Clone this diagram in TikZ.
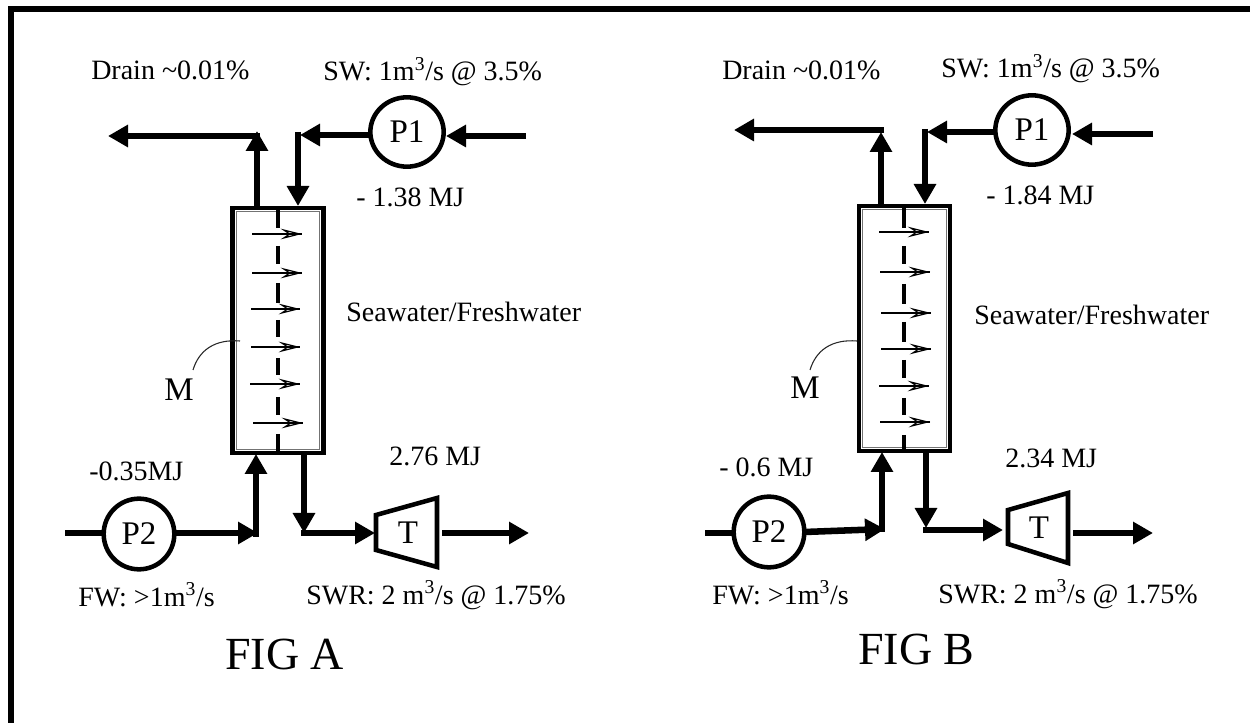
\documentclass[tikz,border=0pt]{standalone}
\usepackage{fontspec}
\setmainfont{Liberation Serif}
\usetikzlibrary{arrows.meta,shapes.geometric}
\newcommand{\fa}{\fontsize{21}{24}\selectfont}
\newcommand{\fb}{\fontsize{24.75}{28}\selectfont}
\newcommand{\fc}{\fontsize{34.5}{40}\selectfont}
\tikzset{
  pipe/.style={line width=4.9pt,line cap=butt,line join=miter},
  flow/.style={pipe,-{Triangle[length=15pt,width=16pt]}},
  lbl/.style={anchor=base west,inner sep=0pt,font=\fa},
  big/.style={anchor=center,inner sep=0pt,font=\fb},
  figlbl/.style={anchor=base west,inner sep=0pt,font=\fc},
  pump/.style={draw,ellipse,line width=3.4pt,inner sep=0pt,font=\fb,outer sep=0pt},
  shell/.style={draw,rectangle,line width=3.4pt,inner sep=0pt,outer sep=0pt,minimum width=68pt,minimum height=184pt},
  liner/.style={draw=black!55,rectangle,line width=0.9pt,inner sep=0pt,minimum width=62.5pt,minimum height=178pt},
  memb/.style={line width=3.4pt},
  perm/.style={line width=0.9pt,-{Stealth[open,length=16pt,width=8pt,inset=6pt,line width=0.9pt]}},
  lead/.style={line width=0.8pt,draw=black!85},
  turb/.style={line width=3.4pt,line join=miter}
}
\begin{document}
\begin{tikzpicture}[x=0.75pt,y=-0.75pt]
\useasboundingbox (0,0) rectangle (1250,723);
\fill[white] (0,0) rectangle (1250,723);
\fill[black] (8,6.5) rectangle (1250,12.5);
\fill[black] (8,6.5) rectangle (13.5,723);

% ---------- FIG A ----------
\node[shell] (boxA) at (278,330.5) {};
\node[liner] (linA) at (278,330.5) {};
\node[pump,minimum width=55pt,minimum height=52pt] (p1A) at (407,132) {P1};
\node[pump,minimum width=53pt,minimum height=53pt] (p2A) at (139,534) {P2};
\foreach \ya/\yb in {208/228,246/264,283/303,320/337,358/375,397/415,434/453}
  \draw[memb] (278,\ya) -- (278,\yb);
\foreach \xa/\xb/\yy in {252/302/234,252/302/273,251/300/309,251/300/347,250/300/384,253/303/423}{
  \coordinate (s) at (\xa,\yy); \coordinate (e) at (\xb,\yy);
  \draw[line width=0.9pt] (s) -- (e);
  \draw[perm] (s) -- (e);
}
\draw[turb] (376,515) -- (437,498) -- (437,567) -- (376,550) -- cycle;
\node[big] (tA) at (408,533) {T};
\coordinate (A1) at (526,136);
\coordinate (A2) at (446,136);
\coordinate (A0) at (300,135);
\coordinate (A3) at (298,132);
\coordinate (A4) at (298,206);
\coordinate (A5) at (257,206);
\coordinate (A6) at (257,131);
\coordinate (A7) at (260,136);
\coordinate (A8) at (108,136);
\coordinate (A9) at (65,533);
\coordinate (A10) at (258,533);
\coordinate (A11) at (256,536.5);
\coordinate (A12) at (256,454);
\coordinate (A13) at (304,455);
\coordinate (A14) at (304,533);
\coordinate (A15) at (301,533);
\coordinate (A16) at (375,533);
\coordinate (A17) at (442,533);
\coordinate (A18) at (529,533);
\draw[flow] (A1) -- (A2);
\draw[flow] (p1A.west |- A0) -- (A0);
\draw[flow] (A3) -- (A4);
\draw[flow] (A5) -- (A6);
\draw[flow] (A7) -- (A8);
\draw[pipe] (A9) -- (p2A.west |- A9);
\draw[flow] (p2A.east |- A10) -- (A10);
\draw[flow] (A11) -- (A12);
\draw[flow] (A13) -- (A14);
\draw[flow] (A15) -- (A16);
\draw[flow] (A17) -- (A18);
\coordinate (Ml1) at (240,341);
\coordinate (Ml2) at (193,370);
\draw[lead] (Ml1) .. controls (215,339) and (199,350) .. (Ml2);
\node[big] (mA) at (179,390) {M};
\node[lbl] (drA) at (91,80) {Drain \textasciitilde0.01\%};
\node[lbl] (swA) at (323,81) {SW: 1m\textsuperscript{3}/s @ 3.5\%};
\node[lbl] (e1A) at (356,207) {- 1.38 MJ};
\node[lbl] (sfA) at (346,322) {Seawater/Freshwater};
\node[lbl] (e2A) at (89,480) {-0.35MJ};
\node[lbl] (e3A) at (389,465) {2.76 MJ};
\node[lbl] (fwA) at (78,606) {FW: >1m\textsuperscript{3}/s};
\node[lbl] (srA) at (306,604) {SWR: 2 m\textsuperscript{3}/s @ 1.75\%};
\node[figlbl] (figA) at (225,669) {FIG A};

% ---------- FIG B ----------
\node[shell] (boxB) at (904.5,328.5) {};
\node[liner] (linB) at (904.5,328.5) {};
\node[pump,minimum width=55pt,minimum height=52pt] (p1B) at (1032,130) {P1};
\node[pump,minimum width=53pt,minimum height=53pt] (p2B) at (769,532) {P2};
\foreach \ya/\yb in {208/228,246/264,284/304,322/342,360/378,398/415,435/452}
  \draw[memb] (904,\ya) -- (904,\yb);
\foreach \xa/\xb/\yy in {879/929/232,880/930/272,881/931/313,881/931/349,879/929/386,880/930/422}{
  \coordinate (s) at (\xa,\yy); \coordinate (e) at (\xb,\yy);
  \draw[line width=0.9pt] (s) -- (e);
  \draw[perm] (s) -- (e);
}
\draw[turb] (1008,510) -- (1068,493) -- (1068,563) -- (1008,544) -- cycle;
\node[big] (tB) at (1039,528) {T};
\coordinate (B1) at (1153,134);
\coordinate (B2) at (1072,134);
\coordinate (B0) at (927,132);
\coordinate (B3) at (925,129);
\coordinate (B4) at (925,204);
\coordinate (B5) at (881,204);
\coordinate (B6) at (881,132);
\coordinate (B7) at (884,130);
\coordinate (B8) at (734,130);
\coordinate (B9) at (705,533);
\coordinate (B10) at (885,529);
\coordinate (B11) at (882,532);
\coordinate (B12) at (882,452);
\coordinate (B13) at (926,453);
\coordinate (B14) at (926,528);
\coordinate (B15) at (923,530);
\coordinate (B16) at (1003,530);
\coordinate (B17) at (1073,533);
\coordinate (B18) at (1153,533);
\draw[flow] (B1) -- (B2);
\draw[flow] (p1B.west |- B0) -- (B0);
\draw[flow] (B3) -- (B4);
\draw[flow] (B5) -- (B6);
\draw[flow] (B7) -- (B8);
\draw[pipe] (B9) -- (p2B.west |- B9);
\draw[flow] (p2B.east) -- (B10);
\draw[flow] (B11) -- (B12);
\draw[flow] (B13) -- (B14);
\draw[flow] (B15) -- (B16);
\draw[flow] (B17) -- (B18);
\coordinate (Mm1) at (857,341);
\coordinate (Mm2) at (810,370);
\draw[lead] (Mm1) .. controls (832,339) and (816,350) .. (Mm2);
\node[big] (mB) at (805,388) {M};
\node[lbl] (drB) at (722,80) {Drain \textasciitilde0.01\%};
\node[lbl] (swB) at (941,78) {SW: 1m\textsuperscript{3}/s @ 3.5\%};
\node[lbl] (e1B) at (986,205) {- 1.84 MJ};
\node[lbl] (sfB) at (974,325) {Seawater/Freshwater};
\node[lbl] (e2B) at (719,477) {- 0.6 MJ};
\node[lbl] (e3B) at (1005,468) {2.34 MJ};
\node[lbl] (fwB) at (712,604) {FW: >1m\textsuperscript{3}/s};
\node[lbl] (srB) at (938,603) {SWR: 2 m\textsuperscript{3}/s @ 1.75\%};
\node[figlbl] (figB) at (858,664) {FIG B};
\end{tikzpicture}
\end{document}
